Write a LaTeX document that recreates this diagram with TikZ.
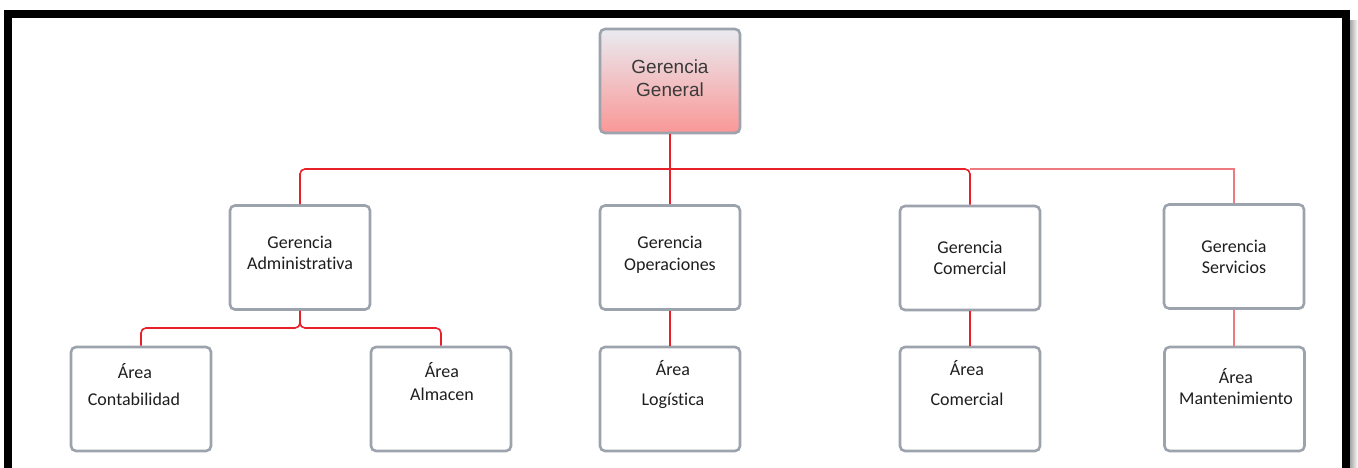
\documentclass[tikz,border=0pt]{standalone}
\usepackage{fontspec}
\setmainfont[RawFeature={-liga;-clig;-calt;-dlig}]{Carlito}
\newfontfamily\gfont{Liberation Sans}
\definecolor{boxgray}{HTML}{9CA3AD}
\definecolor{linered}{HTML}{E8202A}
\definecolor{linepink}{HTML}{EE7A80}
\definecolor{txt}{HTML}{1E1E1E}
\definecolor{gtxt}{HTML}{3A3A3A}
\definecolor{gtop}{HTML}{E9EBF0}
\definecolor{gbot}{HTML}{FA9797}
\begin{document}
\begin{tikzpicture}[x=1pt,y=-1pt,
  orgbox/.style={draw=boxgray,line width=2.6pt,rounded corners=5pt,fill=white,
    minimum width=140pt,minimum height=104pt,inner sep=0pt},
  lbl/.style={font=\fontsize{18}{20}\selectfont,text=txt,anchor=base,inner sep=0pt},
  glbl/.style={font=\gfont\fontsize{19}{22}\selectfont,text=gtxt,anchor=base,inner sep=0pt},
  conn/.style={draw=linered,line width=1.6pt,rounded corners=5pt},
  connlight/.style={draw=linepink,line width=1.1pt}]
\useasboundingbox (0,0) rectangle (1358,467);
\fill[white] (0,0) rectangle (1358,467);
% frame
\shade[left color=gray!70,right color=white] (1350,20) rectangle (1358,467);
\draw[black,line width=8pt] (8,470) -- (8,14) -- (1346,14) -- (1346,470);
% boxes
\node[orgbox,top color=gtop,bottom color=gbot] (gg) at (670,81) {};
\node[orgbox] (adm) at (300,257.5) {};
\node[orgbox] (ope) at (670,257.5) {};
\node[orgbox] (com) at (970,258) {};
\node[orgbox] (ser) at (1234,256.5) {};
\node[orgbox] (con) at (141,399) {};
\node[orgbox] (alm) at (441,399) {};
\node[orgbox] (log) at (670,399) {};
\node[orgbox] (aco) at (970,399) {};
\node[orgbox] (man) at (1234.5,399) {};
% connectors
\coordinate (busL) at (300,169);
\coordinate (busR) at (1234,169);
\draw[connlight] (970,169) -- (busR) -- (ser.north);
\draw[conn] (adm.north) -- (busL) -- (970,169) -- (com.north);
\draw[conn] (gg.south) -- (ope.north);
\draw[conn] (adm.south) -- (300,328) -- (141,328) -- (con.north);
\draw[conn] (adm.south) -- (300,328) -- (441,328) -- (alm.north);
\draw[conn] (ope.south) -- (log.north);
\draw[conn] (com.south) -- (aco.north);
\draw[connlight] (ser.south) -- (ser.south |- man.north);
% labels
\node[glbl] (t1) at (670,73) {Gerencia};
\node[glbl] (t2) at (670,96) {General};
\node[lbl] (t3) at (300,248) {Gerencia};
\node[lbl] (t4) at (300,269) {Administrativa};
\node[lbl] (t5) at (670,248) {Gerencia};
\node[lbl] (t6) at (670,270) {Operaciones};
\node[lbl] (t7) at (970,253) {Gerencia};
\node[lbl] (t8) at (970,274) {Comercial};
\node[lbl] (t9) at (1234,252) {Gerencia};
\node[lbl] (t10) at (1234,273) {Servicios};
\node[lbl] (t11) at (135,378) {Área};
\node[lbl] (t12) at (134,405) {Contabilidad};
\node[lbl] (t13) at (442,377) {Área};
\node[lbl] (t14) at (442,400) {Almacen};
\node[lbl] (t15) at (673,375) {Área};
\node[lbl] (t16) at (673,405) {Logística};
\node[lbl] (t17) at (967,375) {Área};
\node[lbl] (t18) at (967,405) {Comercial};
\node[lbl] (t19) at (1236,383) {Área};
\node[lbl] (t20) at (1236,404) {Mantenimiento};
\end{tikzpicture}
\end{document}
